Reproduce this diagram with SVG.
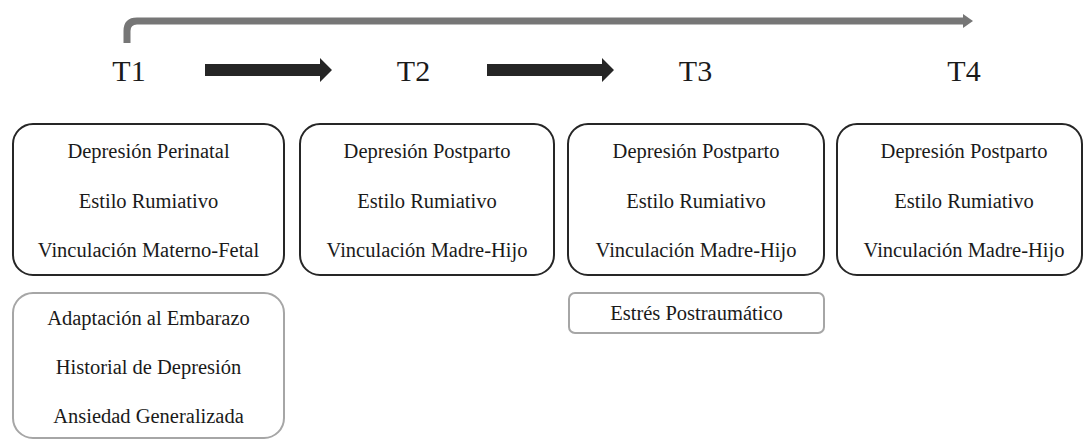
<svg xmlns="http://www.w3.org/2000/svg" width="1085" height="440" viewBox="0 0 1085 440">
  <style>
    .t { font-family: "Liberation Serif", "Times New Roman", serif; fill: #1a1a1a; text-anchor: middle; }
    .lbl { font-size: 20.5px; }
    .time { font-size: 30px; }
    .main { fill: #ffffff; stroke: #262626; stroke-width: 2; }
    .extra { fill: #ffffff; stroke: #a6a6a6; stroke-width: 2; }
    .flow { fill: #262626; }
  </style>
  <defs>
    <marker id="greyHead" viewBox="0 0 10 14" refX="0" refY="7" markerWidth="10" markerHeight="14" markerUnits="userSpaceOnUse" orient="auto">
      <path d="M0,0 L10,7 L0,14 Z" fill="#767676"/>
    </marker>
  </defs>

  <!-- connectors: overall T1→T4 span and the stepwise arrows -->
  <g id="connectors">
    <path d="M127,43 V31 Q127,21 137,21 H963" fill="none" stroke="#767676" stroke-width="7" marker-end="url(#greyHead)"/>
    <path class="flow" d="M205,64 H320 V58 L332,70 L320,82 V76 H205 Z"/>
    <path class="flow" d="M487,64 H602 V58 L614,70 L602,82 V76 H487 Z"/>
  </g>

  <!-- time points -->
  <g id="time-labels">
    <text class="t time" x="129" y="81">T1</text>
    <text class="t time" x="413.5" y="81">T2</text>
    <text class="t time" x="695.5" y="81">T3</text>
    <text class="t time" x="964" y="81">T4</text>
  </g>

  <g id="node-t1">
    <rect class="main" x="13" y="124" width="271" height="151" rx="20"/>
    <text class="t lbl" x="148.5" y="158">Depresión Perinatal</text>
    <text class="t lbl" x="148.5" y="208">Estilo Rumiativo</text>
    <text class="t lbl" x="148.5" y="257">Vinculación Materno-Fetal</text>
  </g>

  <g id="node-t1-extra">
    <rect class="extra" x="13" y="293" width="271" height="145" rx="20"/>
    <text class="t lbl" x="148.5" y="325">Adaptación al Embarazo</text>
    <text class="t lbl" x="148.5" y="374">Historial de Depresión</text>
    <text class="t lbl" x="148.5" y="423">Ansiedad Generalizada</text>
  </g>

  <g id="node-t2">
    <rect class="main" x="300" y="124" width="254" height="151" rx="20"/>
    <text class="t lbl" x="427" y="158">Depresión Postparto</text>
    <text class="t lbl" x="427" y="208">Estilo Rumiativo</text>
    <text class="t lbl" x="427" y="257">Vinculación Madre-Hijo</text>
  </g>

  <g id="node-t3">
    <rect class="main" x="568" y="124" width="256" height="151" rx="20"/>
    <text class="t lbl" x="696" y="158">Depresión Postparto</text>
    <text class="t lbl" x="696" y="208">Estilo Rumiativo</text>
    <text class="t lbl" x="696" y="257">Vinculación Madre-Hijo</text>
  </g>

  <g id="node-t3-extra">
    <rect class="extra" x="569" y="293" width="255" height="40" rx="6"/>
    <text class="t lbl" x="696.5" y="320">Estrés Postraumático</text>
  </g>

  <g id="node-t4">
    <rect class="main" x="837" y="124" width="245" height="151" rx="20"/>
    <text class="t lbl" x="964" y="158">Depresión Postparto</text>
    <text class="t lbl" x="964" y="208">Estilo Rumiativo</text>
    <text class="t lbl" x="964" y="257">Vinculación Madre-Hijo</text>
  </g>
</svg>
